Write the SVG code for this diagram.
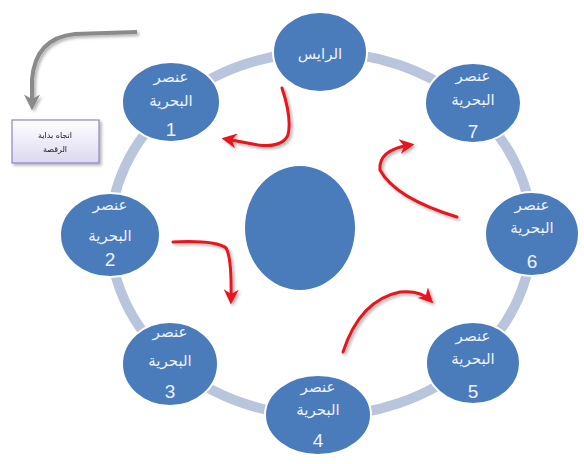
<svg xmlns="http://www.w3.org/2000/svg" width="584" height="464" viewBox="0 0 584 464">
<defs>
<style>
.node{fill:#4a7cbc;stroke:#ffffff;stroke-width:2}
.t{font-family:"DejaVu Sans",sans-serif;fill:#eef2fa;text-anchor:middle;font-size:15px}
.n{font-family:"Liberation Sans",sans-serif;fill:#eef2fa;text-anchor:middle;font-size:19px}
.red{fill:none;stroke:#e8141b;stroke-width:3;stroke-linecap:round}
</style>
<linearGradient id="boxg" x1="0" y1="0" x2="0" y2="1">
<stop offset="0" stop-color="#ffffff"/>
<stop offset="1" stop-color="#dcd8f0"/>
</linearGradient>
<marker id="ar" viewBox="0 0 10 10" refX="7" refY="5" markerWidth="5" markerHeight="5" orient="auto">
<path d="M0,0 L10,5 L0,10 L3,5 z" fill="#e8141b"/>
</marker>
<marker id="ag" viewBox="0 0 10 10" refX="6" refY="5" markerWidth="4" markerHeight="4" orient="auto">
<path d="M0,0 L10,5 L0,10 L3,5 z" fill="#8a8a8a"/>
</marker>
<filter id="sh" x="-20%" y="-20%" width="150%" height="150%">
<feDropShadow dx="2" dy="2" stdDeviation="1.5" flood-color="#000" flood-opacity="0.3"/>
</filter>
</defs>
<rect width="584" height="464" fill="#ffffff"/>
<ellipse cx="321" cy="234" rx="211" ry="182" fill="none" stroke="#b9c5dd" stroke-width="10"/>
<g id="center"><ellipse cx="300" cy="228" rx="55" ry="62" fill="#4a7cbc"/></g>
<g id="raiss"><ellipse class="node" cx="320" cy="52" rx="47" ry="40"/><text class="t" x="320" y="59" font-size="20">الرايس</text></g>
<g id="n1"><ellipse class="node" cx="171" cy="102" rx="49" ry="40"/><text class="t" x="171" y="82">عنصر</text><text class="t" x="171" y="106">البحرية</text><text class="n" x="171" y="136">1</text></g>
<g id="n2"><ellipse class="node" cx="110" cy="235" rx="50" ry="42"/><text class="t" x="110" y="210">عنصر</text><text class="t" x="110" y="241">البحرية</text><text class="n" x="110" y="266">2</text></g>
<g id="n3"><ellipse class="node" cx="170" cy="364" rx="48" ry="42"/><text class="t" x="170" y="337">عنصر</text><text class="t" x="170" y="366">البحرية</text><text class="n" x="170" y="398">3</text></g>
<g id="n4"><ellipse class="node" cx="318" cy="415" rx="53" ry="40"/><text class="t" x="318" y="392">عنصر</text><text class="t" x="318" y="415">البحرية</text><text class="n" x="318" y="447">4</text></g>
<g id="n5"><ellipse class="node" cx="473" cy="363" rx="47" ry="41"/><text class="t" x="473" y="341">عنصر</text><text class="t" x="473" y="364">البحرية</text><text class="n" x="473" y="398">5</text></g>
<g id="n6"><ellipse class="node" cx="532" cy="234" rx="47" ry="42"/><text class="t" x="532" y="210">عنصر</text><text class="t" x="532" y="233">البحرية</text><text class="n" x="532" y="268">6</text></g>
<g id="n7"><ellipse class="node" cx="473" cy="103" rx="48" ry="40"/><text class="t" x="473" y="81">عنصر</text><text class="t" x="473" y="105">البحرية</text><text class="n" x="473" y="138">7</text></g>
<g id="note" filter="url(#sh)"><rect x="12" y="120" width="87" height="43" fill="url(#boxg)" stroke="#8f86c8" stroke-width="1.2"/><text x="55" y="138" font-family="DejaVu Sans,sans-serif" font-size="8" text-anchor="middle" fill="#222">اتجاه بداية</text><text x="55" y="152" font-family="DejaVu Sans,sans-serif" font-size="8" text-anchor="middle" fill="#222">الرقصة</text></g>
<g id="connectors">
<path d="M137,32 L75,34 Q35,38 32,80 L32,104" fill="none" stroke="#8a8a8a" stroke-width="4" marker-end="url(#ag)" filter="url(#sh)"/>
<g filter="url(#sh)">
<path class="red" d="M282,88 Q292,118 288,135 Q282,148 258,145 L226,139" marker-end="url(#ar)"/>
<path class="red" d="M173,242 Q215,240 226,248 Q232,258 231,300" marker-end="url(#ar)"/>
<path class="red" d="M343,352 Q360,300 400,292 Q420,290 430,300" marker-end="url(#ar)"/>
<path class="red" d="M457,217 Q395,198 380,170 Q378,150 410,145" marker-end="url(#ar)"/>
</g>
</g>
</svg>
